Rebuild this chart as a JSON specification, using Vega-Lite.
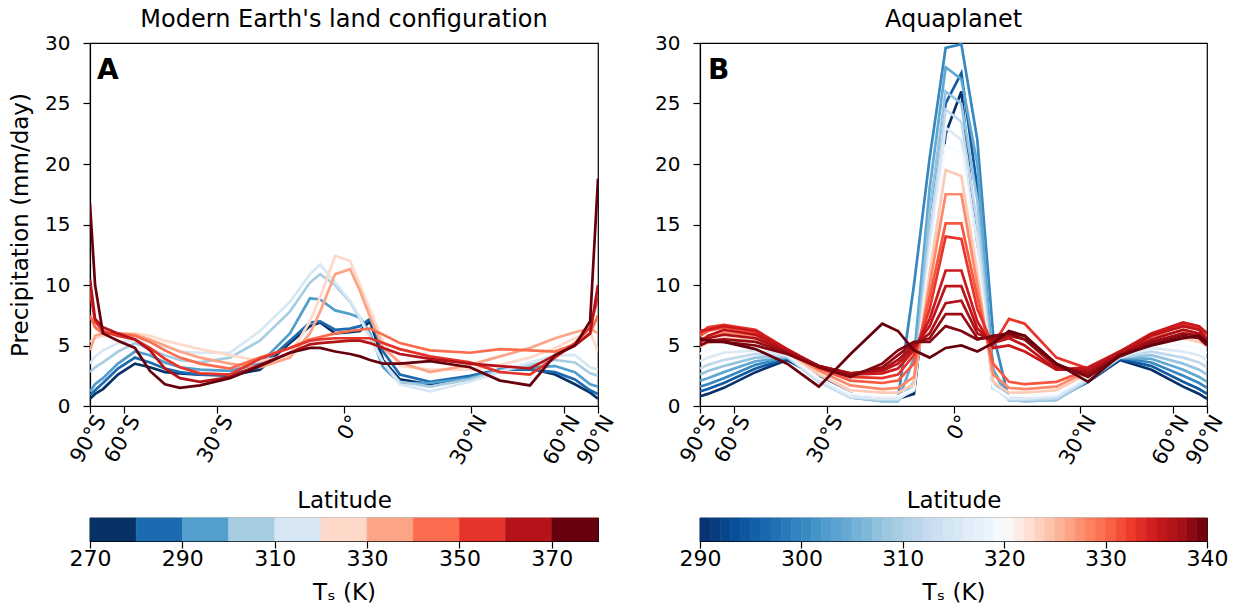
{
  "$schema": "https://vega.github.io/schema/vega-lite/v6.json",
  "padding": {"left": 8, "top": 7, "right": 5, "bottom": 5},
  "config": {
    "font": "DejaVu Sans",
    "view": {"stroke": "black", "strokeWidth": 1.2},
    "axis": {
      "grid": false,
      "domainColor": "black",
      "domainWidth": 1.2,
      "tickColor": "black",
      "tickWidth": 1.2,
      "tickSize": 7,
      "labelColor": "black",
      "labelFontSize": 20,
      "titleColor": "black",
      "titleFontSize": 23,
      "titleFontWeight": "normal"
    },
    "title": {"fontSize": 24, "fontWeight": "normal", "offset": 1, "color": "black"}
  },
  "datasets": {
    "landA": [
      {"T":275,"mu":-1,"P":0.6},{"T":275,"mu":-0.98,"P":1.0},{"T":275,"mu":-0.949,"P":1.4},{"T":275,"mu":-0.89,"P":2.6},{"T":275,"mu":-0.823,"P":3.5},{"T":275,"mu":-0.764,"P":3.2},{"T":275,"mu":-0.705,"P":2.8},{"T":275,"mu":-0.646,"P":2.7},{"T":275,"mu":-0.567,"P":2.6},{"T":275,"mu":-0.449,"P":2.5},{"T":275,"mu":-0.331,"P":3.0},{"T":275,"mu":-0.213,"P":5.2},{"T":275,"mu":-0.134,"P":6.6},{"T":275,"mu":-0.094,"P":6.9},{"T":275,"mu":-0.035,"P":6.0},{"T":275,"mu":0.024,"P":6.1},{"T":275,"mu":0.063,"P":6.2},{"T":275,"mu":0.102,"P":7.0},{"T":275,"mu":0.154,"P":3.8},{"T":275,"mu":0.22,"P":2.2},{"T":275,"mu":0.339,"P":1.8},{"T":275,"mu":0.496,"P":2.4},{"T":275,"mu":0.614,"P":3.0},{"T":275,"mu":0.732,"P":3.1},{"T":275,"mu":0.831,"P":2.6},{"T":275,"mu":0.909,"P":1.8},{"T":275,"mu":0.969,"P":1.1},{"T":275,"mu":1,"P":0.6},
      {"T":285,"mu":-1,"P":0.9},{"T":285,"mu":-0.98,"P":1.3},{"T":285,"mu":-0.949,"P":1.9},{"T":285,"mu":-0.89,"P":3.1},{"T":285,"mu":-0.823,"P":4.0},{"T":285,"mu":-0.764,"P":3.6},{"T":285,"mu":-0.705,"P":3.1},{"T":285,"mu":-0.646,"P":2.8},{"T":285,"mu":-0.567,"P":2.6},{"T":285,"mu":-0.449,"P":2.6},{"T":285,"mu":-0.331,"P":3.2},{"T":285,"mu":-0.213,"P":5.4},{"T":285,"mu":-0.134,"P":6.9},{"T":285,"mu":-0.094,"P":7.0},{"T":285,"mu":-0.035,"P":6.3},{"T":285,"mu":0.024,"P":6.4},{"T":285,"mu":0.063,"P":6.6},{"T":285,"mu":0.102,"P":7.2},{"T":285,"mu":0.154,"P":4.5},{"T":285,"mu":0.22,"P":2.6},{"T":285,"mu":0.339,"P":2.0},{"T":285,"mu":0.496,"P":2.5},{"T":285,"mu":0.614,"P":3.0},{"T":285,"mu":0.732,"P":3.0},{"T":285,"mu":0.831,"P":2.8},{"T":285,"mu":0.909,"P":2.2},{"T":285,"mu":0.969,"P":1.3},{"T":285,"mu":1,"P":1.0},
      {"T":295,"mu":-1,"P":1.2},{"T":295,"mu":-0.98,"P":1.8},{"T":295,"mu":-0.949,"P":2.3},{"T":295,"mu":-0.89,"P":3.5},{"T":295,"mu":-0.823,"P":4.5},{"T":295,"mu":-0.764,"P":4.2},{"T":295,"mu":-0.705,"P":3.6},{"T":295,"mu":-0.646,"P":3.2},{"T":295,"mu":-0.567,"P":3.0},{"T":295,"mu":-0.449,"P":2.9},{"T":295,"mu":-0.331,"P":3.5},{"T":295,"mu":-0.213,"P":6.0},{"T":295,"mu":-0.134,"P":8.9},{"T":295,"mu":-0.094,"P":8.8},{"T":295,"mu":-0.035,"P":7.9},{"T":295,"mu":0.024,"P":7.6},{"T":295,"mu":0.063,"P":7.3},{"T":295,"mu":0.102,"P":6.0},{"T":295,"mu":0.154,"P":3.2},{"T":295,"mu":0.22,"P":1.9},{"T":295,"mu":0.339,"P":1.9},{"T":295,"mu":0.496,"P":2.3},{"T":295,"mu":0.614,"P":3.0},{"T":295,"mu":0.732,"P":3.2},{"T":295,"mu":0.831,"P":3.3},{"T":295,"mu":0.909,"P":2.8},{"T":295,"mu":0.969,"P":1.8},{"T":295,"mu":1,"P":1.6},
      {"T":305,"mu":-1,"P":2.8},{"T":305,"mu":-0.98,"P":3.2},{"T":305,"mu":-0.949,"P":3.6},{"T":305,"mu":-0.89,"P":4.5},{"T":305,"mu":-0.823,"P":5.2},{"T":305,"mu":-0.764,"P":4.7},{"T":305,"mu":-0.705,"P":4.2},{"T":305,"mu":-0.646,"P":3.8},{"T":305,"mu":-0.567,"P":3.6},{"T":305,"mu":-0.449,"P":4.0},{"T":305,"mu":-0.331,"P":5.4},{"T":305,"mu":-0.213,"P":7.8},{"T":305,"mu":-0.134,"P":10.2},{"T":305,"mu":-0.094,"P":10.9},{"T":305,"mu":-0.035,"P":10.0},{"T":305,"mu":0.024,"P":8.6},{"T":305,"mu":0.063,"P":7.2},{"T":305,"mu":0.102,"P":5.8},{"T":305,"mu":0.154,"P":3.6},{"T":305,"mu":0.22,"P":2.0},{"T":305,"mu":0.339,"P":1.6},{"T":305,"mu":0.496,"P":2.2},{"T":305,"mu":0.614,"P":2.9},{"T":305,"mu":0.732,"P":3.4},{"T":305,"mu":0.831,"P":3.8},{"T":305,"mu":0.909,"P":3.6},{"T":305,"mu":0.969,"P":2.7},{"T":305,"mu":1,"P":2.5},
      {"T":315,"mu":-1,"P":3.5},{"T":315,"mu":-0.98,"P":4.1},{"T":315,"mu":-0.949,"P":4.6},{"T":315,"mu":-0.89,"P":5.2},{"T":315,"mu":-0.823,"P":5.5},{"T":315,"mu":-0.764,"P":5.3},{"T":315,"mu":-0.705,"P":4.9},{"T":315,"mu":-0.646,"P":4.5},{"T":315,"mu":-0.567,"P":4.4},{"T":315,"mu":-0.449,"P":4.4},{"T":315,"mu":-0.331,"P":6.2},{"T":315,"mu":-0.213,"P":8.6},{"T":315,"mu":-0.134,"P":10.9},{"T":315,"mu":-0.094,"P":11.7},{"T":315,"mu":-0.035,"P":10.2},{"T":315,"mu":0.024,"P":8.7},{"T":315,"mu":0.063,"P":7.3},{"T":315,"mu":0.102,"P":5.6},{"T":315,"mu":0.154,"P":3.6},{"T":315,"mu":0.22,"P":1.8},{"T":315,"mu":0.339,"P":1.2},{"T":315,"mu":0.496,"P":2.0},{"T":315,"mu":0.614,"P":2.8},{"T":315,"mu":0.732,"P":3.6},{"T":315,"mu":0.831,"P":4.2},{"T":315,"mu":0.909,"P":4.2},{"T":315,"mu":0.969,"P":3.2},{"T":315,"mu":1,"P":3.0},
      {"T":325,"mu":-1,"P":5.3},{"T":325,"mu":-0.98,"P":5.6},{"T":325,"mu":-0.949,"P":5.8},{"T":325,"mu":-0.89,"P":6.0},{"T":325,"mu":-0.823,"P":6.0},{"T":325,"mu":-0.764,"P":5.8},{"T":325,"mu":-0.705,"P":5.4},{"T":325,"mu":-0.646,"P":5.1},{"T":325,"mu":-0.567,"P":4.7},{"T":325,"mu":-0.449,"P":4.2},{"T":325,"mu":-0.331,"P":3.7},{"T":325,"mu":-0.213,"P":4.2},{"T":325,"mu":-0.134,"P":7.0},{"T":325,"mu":-0.094,"P":9.0},{"T":325,"mu":-0.035,"P":12.4},{"T":325,"mu":0.024,"P":12.0},{"T":325,"mu":0.063,"P":10.0},{"T":325,"mu":0.102,"P":8.0},{"T":325,"mu":0.154,"P":5.3},{"T":325,"mu":0.22,"P":3.3},{"T":325,"mu":0.339,"P":3.0},{"T":325,"mu":0.496,"P":3.0},{"T":325,"mu":0.614,"P":3.4},{"T":325,"mu":0.732,"P":4.0},{"T":325,"mu":0.831,"P":4.8},{"T":325,"mu":0.909,"P":5.6},{"T":325,"mu":0.969,"P":6.1},{"T":325,"mu":1,"P":4.5},
      {"T":335,"mu":-1,"P":4.6},{"T":335,"mu":-0.98,"P":5.8},{"T":335,"mu":-0.949,"P":6.0},{"T":335,"mu":-0.89,"P":6.0},{"T":335,"mu":-0.823,"P":5.9},{"T":335,"mu":-0.764,"P":5.5},{"T":335,"mu":-0.705,"P":5.0},{"T":335,"mu":-0.646,"P":4.5},{"T":335,"mu":-0.567,"P":4.0},{"T":335,"mu":-0.449,"P":3.5},{"T":335,"mu":-0.331,"P":3.2},{"T":335,"mu":-0.213,"P":4.0},{"T":335,"mu":-0.134,"P":6.0},{"T":335,"mu":-0.094,"P":7.8},{"T":335,"mu":-0.035,"P":10.9},{"T":335,"mu":0.024,"P":11.3},{"T":335,"mu":0.063,"P":9.5},{"T":335,"mu":0.102,"P":7.4},{"T":335,"mu":0.154,"P":4.8},{"T":335,"mu":0.22,"P":3.6},{"T":335,"mu":0.339,"P":2.8},{"T":335,"mu":0.496,"P":3.4},{"T":335,"mu":0.614,"P":4.1},{"T":335,"mu":0.732,"P":4.8},{"T":335,"mu":0.831,"P":5.6},{"T":335,"mu":0.909,"P":6.1},{"T":335,"mu":0.969,"P":6.4},{"T":335,"mu":1,"P":6.0},
      {"T":345,"mu":-1,"P":7.5},{"T":345,"mu":-0.98,"P":6.5},{"T":345,"mu":-0.949,"P":6.0},{"T":345,"mu":-0.89,"P":6.0},{"T":345,"mu":-0.823,"P":5.8},{"T":345,"mu":-0.764,"P":5.3},{"T":345,"mu":-0.705,"P":4.6},{"T":345,"mu":-0.646,"P":4.0},{"T":345,"mu":-0.567,"P":3.5},{"T":345,"mu":-0.449,"P":3.1},{"T":345,"mu":-0.331,"P":4.0},{"T":345,"mu":-0.213,"P":4.8},{"T":345,"mu":-0.134,"P":5.5},{"T":345,"mu":-0.094,"P":5.7},{"T":345,"mu":-0.035,"P":6.0},{"T":345,"mu":0.024,"P":6.2},{"T":345,"mu":0.063,"P":6.3},{"T":345,"mu":0.102,"P":6.4},{"T":345,"mu":0.154,"P":5.9},{"T":345,"mu":0.22,"P":5.2},{"T":345,"mu":0.339,"P":4.6},{"T":345,"mu":0.496,"P":4.4},{"T":345,"mu":0.614,"P":4.7},{"T":345,"mu":0.732,"P":4.6},{"T":345,"mu":0.831,"P":4.5},{"T":345,"mu":0.909,"P":5.1},{"T":345,"mu":0.969,"P":6.0},{"T":345,"mu":1,"P":7.5},
      {"T":355,"mu":-1,"P":9.5},{"T":355,"mu":-0.98,"P":7.0},{"T":355,"mu":-0.949,"P":6.2},{"T":355,"mu":-0.89,"P":5.8},{"T":355,"mu":-0.823,"P":5.5},{"T":355,"mu":-0.764,"P":4.8},{"T":355,"mu":-0.705,"P":3.9},{"T":355,"mu":-0.646,"P":3.2},{"T":355,"mu":-0.567,"P":2.7},{"T":355,"mu":-0.449,"P":2.6},{"T":355,"mu":-0.331,"P":3.9},{"T":355,"mu":-0.213,"P":4.8},{"T":355,"mu":-0.134,"P":5.4},{"T":355,"mu":-0.094,"P":5.5},{"T":355,"mu":-0.035,"P":5.6},{"T":355,"mu":0.024,"P":5.6},{"T":355,"mu":0.063,"P":5.6},{"T":355,"mu":0.102,"P":5.6},{"T":355,"mu":0.154,"P":5.2},{"T":355,"mu":0.22,"P":4.7},{"T":355,"mu":0.339,"P":4.1},{"T":355,"mu":0.496,"P":3.6},{"T":355,"mu":0.614,"P":2.8},{"T":355,"mu":0.732,"P":2.6},{"T":355,"mu":0.831,"P":4.0},{"T":355,"mu":0.909,"P":5.2},{"T":355,"mu":0.969,"P":6.5},{"T":355,"mu":1,"P":9.0},
      {"T":365,"mu":-1,"P":10.5},{"T":365,"mu":-0.98,"P":7.2},{"T":365,"mu":-0.949,"P":6.5},{"T":365,"mu":-0.89,"P":6.0},{"T":365,"mu":-0.823,"P":5.5},{"T":365,"mu":-0.764,"P":4.6},{"T":365,"mu":-0.705,"P":3.1},{"T":365,"mu":-0.646,"P":2.3},{"T":365,"mu":-0.567,"P":2.0},{"T":365,"mu":-0.449,"P":2.4},{"T":365,"mu":-0.331,"P":3.4},{"T":365,"mu":-0.213,"P":4.4},{"T":365,"mu":-0.134,"P":5.1},{"T":365,"mu":-0.094,"P":5.2},{"T":365,"mu":-0.035,"P":5.3},{"T":365,"mu":0.024,"P":5.4},{"T":365,"mu":0.063,"P":5.4},{"T":365,"mu":0.102,"P":5.2},{"T":365,"mu":0.154,"P":4.8},{"T":365,"mu":0.22,"P":4.3},{"T":365,"mu":0.339,"P":3.9},{"T":365,"mu":0.496,"P":3.5},{"T":365,"mu":0.614,"P":3.3},{"T":365,"mu":0.732,"P":3.1},{"T":365,"mu":0.831,"P":4.2},{"T":365,"mu":0.909,"P":5.0},{"T":365,"mu":0.969,"P":6.0},{"T":365,"mu":1,"P":10.0},
      {"T":375,"mu":-1,"P":16.7},{"T":375,"mu":-0.98,"P":10.0},{"T":375,"mu":-0.949,"P":6.0},{"T":375,"mu":-0.89,"P":5.4},{"T":375,"mu":-0.823,"P":4.8},{"T":375,"mu":-0.764,"P":2.9},{"T":375,"mu":-0.705,"P":1.8},{"T":375,"mu":-0.646,"P":1.5},{"T":375,"mu":-0.567,"P":1.7},{"T":375,"mu":-0.449,"P":2.3},{"T":375,"mu":-0.331,"P":3.3},{"T":375,"mu":-0.213,"P":4.4},{"T":375,"mu":-0.134,"P":4.8},{"T":375,"mu":-0.094,"P":4.8},{"T":375,"mu":-0.035,"P":4.5},{"T":375,"mu":0.024,"P":4.3},{"T":375,"mu":0.063,"P":4.1},{"T":375,"mu":0.102,"P":3.8},{"T":375,"mu":0.154,"P":3.5},{"T":375,"mu":0.22,"P":3.5},{"T":375,"mu":0.339,"P":3.7},{"T":375,"mu":0.496,"P":3.2},{"T":375,"mu":0.614,"P":2.1},{"T":375,"mu":0.732,"P":1.7},{"T":375,"mu":0.831,"P":4.2},{"T":375,"mu":0.909,"P":5.0},{"T":375,"mu":0.969,"P":7.0},{"T":375,"mu":1,"P":18.8}
    ],
    "aquaB": [
      {"T":290,"mu":-1,"P":0.8},{"T":290,"mu":-0.969,"P":1.0},{"T":290,"mu":-0.906,"P":1.5},{"T":290,"mu":-0.781,"P":2.8},{"T":290,"mu":-0.656,"P":3.8},{"T":290,"mu":-0.531,"P":2.4},{"T":290,"mu":-0.406,"P":1.0},{"T":290,"mu":-0.281,"P":0.6},{"T":290,"mu":-0.219,"P":0.6},{"T":290,"mu":-0.156,"P":1.0},{"T":290,"mu":-0.094,"P":12.0},{"T":290,"mu":-0.031,"P":22.5},{"T":290,"mu":0.031,"P":26.0},{"T":290,"mu":0.094,"P":13.0},{"T":290,"mu":0.156,"P":1.5},{"T":290,"mu":0.219,"P":0.8},{"T":290,"mu":0.281,"P":0.6},{"T":290,"mu":0.406,"P":0.7},{"T":290,"mu":0.531,"P":2.0},{"T":290,"mu":0.656,"P":3.8},{"T":290,"mu":0.781,"P":3.0},{"T":290,"mu":0.906,"P":1.6},{"T":290,"mu":0.969,"P":1.0},{"T":290,"mu":1,"P":0.6},
      {"T":295,"mu":-1,"P":1.2},{"T":295,"mu":-0.969,"P":1.4},{"T":295,"mu":-0.906,"P":1.9},{"T":295,"mu":-0.781,"P":3.1},{"T":295,"mu":-0.656,"P":3.9},{"T":295,"mu":-0.531,"P":2.3},{"T":295,"mu":-0.406,"P":0.9},{"T":295,"mu":-0.281,"P":0.5},{"T":295,"mu":-0.219,"P":0.5},{"T":295,"mu":-0.156,"P":1.5},{"T":295,"mu":-0.094,"P":16.0},{"T":295,"mu":-0.031,"P":25.0},{"T":295,"mu":0.031,"P":27.5},{"T":295,"mu":0.094,"P":18.0},{"T":295,"mu":0.156,"P":3.0},{"T":295,"mu":0.219,"P":0.7},{"T":295,"mu":0.281,"P":0.5},{"T":295,"mu":0.406,"P":0.6},{"T":295,"mu":0.531,"P":2.0},{"T":295,"mu":0.656,"P":3.9},{"T":295,"mu":0.781,"P":3.3},{"T":295,"mu":0.906,"P":2.0},{"T":295,"mu":0.969,"P":1.4},{"T":295,"mu":1,"P":1.0},
      {"T":300,"mu":-1,"P":1.6},{"T":300,"mu":-0.969,"P":1.8},{"T":300,"mu":-0.906,"P":2.3},{"T":300,"mu":-0.781,"P":3.4},{"T":300,"mu":-0.656,"P":4.0},{"T":300,"mu":-0.531,"P":2.2},{"T":300,"mu":-0.406,"P":0.8},{"T":300,"mu":-0.281,"P":0.5},{"T":300,"mu":-0.219,"P":0.6},{"T":300,"mu":-0.156,"P":10.0},{"T":300,"mu":-0.094,"P":20.5},{"T":300,"mu":-0.031,"P":29.6},{"T":300,"mu":0.031,"P":29.9},{"T":300,"mu":0.094,"P":22.0},{"T":300,"mu":0.156,"P":6.0},{"T":300,"mu":0.219,"P":0.5},{"T":300,"mu":0.281,"P":0.5},{"T":300,"mu":0.406,"P":0.6},{"T":300,"mu":0.531,"P":2.1},{"T":300,"mu":0.656,"P":4.0},{"T":300,"mu":0.781,"P":3.6},{"T":300,"mu":0.906,"P":2.5},{"T":300,"mu":0.969,"P":1.9},{"T":300,"mu":1,"P":1.5},
      {"T":304,"mu":-1,"P":2.1},{"T":304,"mu":-0.969,"P":2.3},{"T":304,"mu":-0.906,"P":2.8},{"T":304,"mu":-0.781,"P":3.7},{"T":304,"mu":-0.656,"P":4.0},{"T":304,"mu":-0.531,"P":2.1},{"T":304,"mu":-0.406,"P":0.7},{"T":304,"mu":-0.281,"P":0.4},{"T":304,"mu":-0.219,"P":0.4},{"T":304,"mu":-0.156,"P":4.0},{"T":304,"mu":-0.094,"P":18.0},{"T":304,"mu":-0.031,"P":28.0},{"T":304,"mu":0.031,"P":27.0},{"T":304,"mu":0.094,"P":20.0},{"T":304,"mu":0.156,"P":3.0},{"T":304,"mu":0.219,"P":0.5},{"T":304,"mu":0.281,"P":0.4},{"T":304,"mu":0.406,"P":0.5},{"T":304,"mu":0.531,"P":2.1},{"T":304,"mu":0.656,"P":4.0},{"T":304,"mu":0.781,"P":3.9},{"T":304,"mu":0.906,"P":3.0},{"T":304,"mu":0.969,"P":2.4},{"T":304,"mu":1,"P":2.0},
      {"T":308,"mu":-1,"P":2.6},{"T":308,"mu":-0.969,"P":2.9},{"T":308,"mu":-0.906,"P":3.3},{"T":308,"mu":-0.781,"P":4.0},{"T":308,"mu":-0.656,"P":4.1},{"T":308,"mu":-0.531,"P":2.0},{"T":308,"mu":-0.406,"P":0.7},{"T":308,"mu":-0.281,"P":0.4},{"T":308,"mu":-0.219,"P":0.4},{"T":308,"mu":-0.156,"P":2.0},{"T":308,"mu":-0.094,"P":16.0},{"T":308,"mu":-0.031,"P":26.0},{"T":308,"mu":0.031,"P":25.0},{"T":308,"mu":0.094,"P":17.0},{"T":308,"mu":0.156,"P":2.0},{"T":308,"mu":0.219,"P":0.5},{"T":308,"mu":0.281,"P":0.4},{"T":308,"mu":0.406,"P":0.5},{"T":308,"mu":0.531,"P":2.1},{"T":308,"mu":0.656,"P":4.0},{"T":308,"mu":0.781,"P":4.2},{"T":308,"mu":0.906,"P":3.5},{"T":308,"mu":0.969,"P":3.0},{"T":308,"mu":1,"P":2.6},
      {"T":312,"mu":-1,"P":3.1},{"T":312,"mu":-0.969,"P":3.4},{"T":312,"mu":-0.906,"P":3.8},{"T":312,"mu":-0.781,"P":4.3},{"T":312,"mu":-0.656,"P":4.1},{"T":312,"mu":-0.531,"P":2.0},{"T":312,"mu":-0.406,"P":0.7},{"T":312,"mu":-0.281,"P":0.5},{"T":312,"mu":-0.219,"P":0.5},{"T":312,"mu":-0.156,"P":1.5},{"T":312,"mu":-0.094,"P":14.0},{"T":312,"mu":-0.031,"P":24.5},{"T":312,"mu":0.031,"P":23.5},{"T":312,"mu":0.094,"P":15.0},{"T":312,"mu":0.156,"P":1.6},{"T":312,"mu":0.219,"P":0.5},{"T":312,"mu":0.281,"P":0.5},{"T":312,"mu":0.406,"P":0.6},{"T":312,"mu":0.531,"P":2.2},{"T":312,"mu":0.656,"P":4.0},{"T":312,"mu":0.781,"P":4.5},{"T":312,"mu":0.906,"P":4.0},{"T":312,"mu":0.969,"P":3.6},{"T":312,"mu":1,"P":3.2},
      {"T":316,"mu":-1,"P":3.7},{"T":316,"mu":-0.969,"P":4.0},{"T":316,"mu":-0.906,"P":4.4},{"T":316,"mu":-0.781,"P":4.6},{"T":316,"mu":-0.656,"P":4.2},{"T":316,"mu":-0.531,"P":2.1},{"T":316,"mu":-0.406,"P":0.8},{"T":316,"mu":-0.281,"P":0.6},{"T":316,"mu":-0.219,"P":0.6},{"T":316,"mu":-0.156,"P":1.3},{"T":316,"mu":-0.094,"P":13.0},{"T":316,"mu":-0.031,"P":23.0},{"T":316,"mu":0.031,"P":22.0},{"T":316,"mu":0.094,"P":13.5},{"T":316,"mu":0.156,"P":1.5},{"T":316,"mu":0.219,"P":0.6},{"T":316,"mu":0.281,"P":0.6},{"T":316,"mu":0.406,"P":0.8},{"T":316,"mu":0.531,"P":2.3},{"T":316,"mu":0.656,"P":4.1},{"T":316,"mu":0.781,"P":4.8},{"T":316,"mu":0.906,"P":4.5},{"T":316,"mu":0.969,"P":4.2},{"T":316,"mu":1,"P":3.8},
      {"T":320,"mu":-1,"P":4.3},{"T":320,"mu":-0.969,"P":4.6},{"T":320,"mu":-0.906,"P":5.0},{"T":320,"mu":-0.781,"P":5.0},{"T":320,"mu":-0.656,"P":4.3},{"T":320,"mu":-0.531,"P":2.3},{"T":320,"mu":-0.406,"P":1.0},{"T":320,"mu":-0.281,"P":0.8},{"T":320,"mu":-0.219,"P":0.8},{"T":320,"mu":-0.156,"P":1.4},{"T":320,"mu":-0.094,"P":12.0},{"T":320,"mu":-0.031,"P":21.5},{"T":320,"mu":0.031,"P":21.0},{"T":320,"mu":0.094,"P":12.0},{"T":320,"mu":0.156,"P":1.6},{"T":320,"mu":0.219,"P":0.8},{"T":320,"mu":0.281,"P":0.8},{"T":320,"mu":0.406,"P":1.0},{"T":320,"mu":0.531,"P":2.5},{"T":320,"mu":0.656,"P":4.2},{"T":320,"mu":0.781,"P":5.1},{"T":320,"mu":0.906,"P":5.0},{"T":320,"mu":0.969,"P":4.8},{"T":320,"mu":1,"P":4.4},
      {"T":324,"mu":-1,"P":4.9},{"T":324,"mu":-0.969,"P":5.2},{"T":324,"mu":-0.906,"P":5.6},{"T":324,"mu":-0.781,"P":5.4},{"T":324,"mu":-0.656,"P":4.4},{"T":324,"mu":-0.531,"P":2.6},{"T":324,"mu":-0.406,"P":1.3},{"T":324,"mu":-0.281,"P":1.1},{"T":324,"mu":-0.219,"P":1.1},{"T":324,"mu":-0.156,"P":1.8},{"T":324,"mu":-0.094,"P":11.0},{"T":324,"mu":-0.031,"P":19.5},{"T":324,"mu":0.031,"P":19.0},{"T":324,"mu":0.094,"P":11.0},{"T":324,"mu":0.156,"P":2.0},{"T":324,"mu":0.219,"P":1.1},{"T":324,"mu":0.281,"P":1.1},{"T":324,"mu":0.406,"P":1.3},{"T":324,"mu":0.531,"P":2.7},{"T":324,"mu":0.656,"P":4.3},{"T":324,"mu":0.781,"P":5.4},{"T":324,"mu":0.906,"P":5.6},{"T":324,"mu":0.969,"P":5.3},{"T":324,"mu":1,"P":5.0},
      {"T":328,"mu":-1,"P":5.4},{"T":328,"mu":-0.969,"P":5.8},{"T":328,"mu":-0.906,"P":6.1},{"T":328,"mu":-0.781,"P":5.8},{"T":328,"mu":-0.656,"P":4.5},{"T":328,"mu":-0.531,"P":2.9},{"T":328,"mu":-0.406,"P":1.7},{"T":328,"mu":-0.281,"P":1.4},{"T":328,"mu":-0.219,"P":1.5},{"T":328,"mu":-0.156,"P":2.4},{"T":328,"mu":-0.094,"P":10.0},{"T":328,"mu":-0.031,"P":17.5},{"T":328,"mu":0.031,"P":17.5},{"T":328,"mu":0.094,"P":10.0},{"T":328,"mu":0.156,"P":2.6},{"T":328,"mu":0.219,"P":1.5},{"T":328,"mu":0.281,"P":1.4},{"T":328,"mu":0.406,"P":1.6},{"T":328,"mu":0.531,"P":2.9},{"T":328,"mu":0.656,"P":4.4},{"T":328,"mu":0.781,"P":5.7},{"T":328,"mu":0.906,"P":6.2},{"T":328,"mu":0.969,"P":5.9},{"T":328,"mu":1,"P":5.5},
      {"T":331,"mu":-1,"P":5.8},{"T":331,"mu":-0.969,"P":6.2},{"T":331,"mu":-0.906,"P":6.5},{"T":331,"mu":-0.781,"P":6.1},{"T":331,"mu":-0.656,"P":4.6},{"T":331,"mu":-0.531,"P":3.1},{"T":331,"mu":-0.406,"P":2.1},{"T":331,"mu":-0.281,"P":1.9},{"T":331,"mu":-0.219,"P":2.1},{"T":331,"mu":-0.156,"P":3.5},{"T":331,"mu":-0.094,"P":9.0},{"T":331,"mu":-0.031,"P":15.1},{"T":331,"mu":0.031,"P":15.1},{"T":331,"mu":0.094,"P":9.0},{"T":331,"mu":0.156,"P":3.5},{"T":331,"mu":0.219,"P":2.0},{"T":331,"mu":0.281,"P":1.8},{"T":331,"mu":0.406,"P":2.0},{"T":331,"mu":0.531,"P":3.0},{"T":331,"mu":0.656,"P":4.5},{"T":331,"mu":0.781,"P":5.9},{"T":331,"mu":0.906,"P":6.6},{"T":331,"mu":0.969,"P":6.3},{"T":331,"mu":1,"P":5.8},
      {"T":333,"mu":-1,"P":6.0},{"T":333,"mu":-0.969,"P":6.5},{"T":333,"mu":-0.906,"P":6.7},{"T":333,"mu":-0.781,"P":6.3},{"T":333,"mu":-0.656,"P":4.7},{"T":333,"mu":-0.531,"P":3.2},{"T":333,"mu":-0.406,"P":2.4},{"T":333,"mu":-0.281,"P":2.3},{"T":333,"mu":-0.219,"P":2.6},{"T":333,"mu":-0.156,"P":4.2},{"T":333,"mu":-0.094,"P":8.0},{"T":333,"mu":-0.031,"P":14.0},{"T":333,"mu":0.031,"P":13.8},{"T":333,"mu":0.094,"P":8.0},{"T":333,"mu":0.156,"P":5.0},{"T":333,"mu":0.219,"P":7.2},{"T":333,"mu":0.281,"P":6.8},{"T":333,"mu":0.406,"P":4.0},{"T":333,"mu":0.531,"P":3.1},{"T":333,"mu":0.656,"P":4.5},{"T":333,"mu":0.781,"P":6.0},{"T":333,"mu":0.906,"P":6.8},{"T":333,"mu":0.969,"P":6.5},{"T":333,"mu":1,"P":6.0},
      {"T":335,"mu":-1,"P":6.2},{"T":335,"mu":-0.969,"P":6.3},{"T":335,"mu":-0.906,"P":6.6},{"T":335,"mu":-0.781,"P":6.2},{"T":335,"mu":-0.656,"P":4.7},{"T":335,"mu":-0.531,"P":3.3},{"T":335,"mu":-0.406,"P":2.6},{"T":335,"mu":-0.281,"P":2.7},{"T":335,"mu":-0.219,"P":3.1},{"T":335,"mu":-0.156,"P":4.6},{"T":335,"mu":-0.094,"P":7.2},{"T":335,"mu":-0.031,"P":11.2},{"T":335,"mu":0.031,"P":11.2},{"T":335,"mu":0.094,"P":7.0},{"T":335,"mu":0.156,"P":4.8},{"T":335,"mu":0.219,"P":5.0},{"T":335,"mu":0.281,"P":4.5},{"T":335,"mu":0.406,"P":3.0},{"T":335,"mu":0.531,"P":3.2},{"T":335,"mu":0.656,"P":4.5},{"T":335,"mu":0.781,"P":6.0},{"T":335,"mu":0.906,"P":6.9},{"T":335,"mu":0.969,"P":6.6},{"T":335,"mu":1,"P":6.0},
      {"T":336,"mu":-1,"P":5.2},{"T":336,"mu":-0.969,"P":5.8},{"T":336,"mu":-0.906,"P":6.3},{"T":336,"mu":-0.781,"P":5.9},{"T":336,"mu":-0.656,"P":4.6},{"T":336,"mu":-0.531,"P":3.3},{"T":336,"mu":-0.406,"P":2.7},{"T":336,"mu":-0.281,"P":2.9},{"T":336,"mu":-0.219,"P":3.5},{"T":336,"mu":-0.156,"P":4.8},{"T":336,"mu":-0.094,"P":6.6},{"T":336,"mu":-0.031,"P":9.9},{"T":336,"mu":0.031,"P":9.9},{"T":336,"mu":0.094,"P":6.4},{"T":336,"mu":0.156,"P":5.2},{"T":336,"mu":0.219,"P":5.6},{"T":336,"mu":0.281,"P":5.0},{"T":336,"mu":0.406,"P":3.0},{"T":336,"mu":0.531,"P":3.0},{"T":336,"mu":0.656,"P":4.4},{"T":336,"mu":0.781,"P":5.8},{"T":336,"mu":0.906,"P":6.6},{"T":336,"mu":0.969,"P":6.3},{"T":336,"mu":1,"P":5.5},
      {"T":337,"mu":-1,"P":5.5},{"T":337,"mu":-0.969,"P":5.6},{"T":337,"mu":-0.906,"P":5.9},{"T":337,"mu":-0.781,"P":5.6},{"T":337,"mu":-0.656,"P":4.5},{"T":337,"mu":-0.531,"P":3.3},{"T":337,"mu":-0.406,"P":2.7},{"T":337,"mu":-0.281,"P":3.0},{"T":337,"mu":-0.219,"P":3.8},{"T":337,"mu":-0.156,"P":5.0},{"T":337,"mu":-0.094,"P":6.0},{"T":337,"mu":-0.031,"P":8.5},{"T":337,"mu":0.031,"P":8.7},{"T":337,"mu":0.094,"P":6.0},{"T":337,"mu":0.156,"P":5.4},{"T":337,"mu":0.219,"P":5.8},{"T":337,"mu":0.281,"P":5.5},{"T":337,"mu":0.406,"P":3.2},{"T":337,"mu":0.531,"P":2.8},{"T":337,"mu":0.656,"P":4.3},{"T":337,"mu":0.781,"P":5.5},{"T":337,"mu":0.906,"P":6.3},{"T":337,"mu":0.969,"P":6.0},{"T":337,"mu":1,"P":5.4},
      {"T":338,"mu":-1,"P":5.6},{"T":338,"mu":-0.969,"P":5.4},{"T":338,"mu":-0.906,"P":5.5},{"T":338,"mu":-0.781,"P":5.3},{"T":338,"mu":-0.656,"P":4.4},{"T":338,"mu":-0.531,"P":3.3},{"T":338,"mu":-0.406,"P":2.6},{"T":338,"mu":-0.281,"P":3.2},{"T":338,"mu":-0.219,"P":4.2},{"T":338,"mu":-0.156,"P":5.2},{"T":338,"mu":-0.094,"P":5.6},{"T":338,"mu":-0.031,"P":7.6},{"T":338,"mu":0.031,"P":7.6},{"T":338,"mu":0.094,"P":5.6},{"T":338,"mu":0.156,"P":5.6},{"T":338,"mu":0.219,"P":6.0},{"T":338,"mu":0.281,"P":5.8},{"T":338,"mu":0.406,"P":3.4},{"T":338,"mu":0.531,"P":2.6},{"T":338,"mu":0.656,"P":4.2},{"T":338,"mu":0.781,"P":5.3},{"T":338,"mu":0.906,"P":6.0},{"T":338,"mu":0.969,"P":5.8},{"T":338,"mu":1,"P":5.3},
      {"T":339,"mu":-1,"P":5.0},{"T":339,"mu":-0.969,"P":5.3},{"T":339,"mu":-0.906,"P":5.3},{"T":339,"mu":-0.781,"P":5.0},{"T":339,"mu":-0.656,"P":4.3},{"T":339,"mu":-0.531,"P":3.2},{"T":339,"mu":-0.406,"P":2.4},{"T":339,"mu":-0.281,"P":3.5},{"T":339,"mu":-0.219,"P":4.6},{"T":339,"mu":-0.156,"P":5.3},{"T":339,"mu":-0.094,"P":5.3},{"T":339,"mu":-0.031,"P":6.6},{"T":339,"mu":0.031,"P":6.2},{"T":339,"mu":0.094,"P":5.5},{"T":339,"mu":0.156,"P":5.8},{"T":339,"mu":0.219,"P":6.0},{"T":339,"mu":0.281,"P":5.5},{"T":339,"mu":0.406,"P":3.5},{"T":339,"mu":0.531,"P":2.4},{"T":339,"mu":0.656,"P":4.1},{"T":339,"mu":0.781,"P":5.1},{"T":339,"mu":0.906,"P":5.8},{"T":339,"mu":0.969,"P":5.6},{"T":339,"mu":1,"P":5.0},
      {"T":340,"mu":-1,"P":5.5},{"T":340,"mu":-0.969,"P":5.4},{"T":340,"mu":-0.906,"P":5.3},{"T":340,"mu":-0.781,"P":4.7},{"T":340,"mu":-0.656,"P":3.5},{"T":340,"mu":-0.531,"P":1.6},{"T":340,"mu":-0.406,"P":4.3},{"T":340,"mu":-0.281,"P":6.8},{"T":340,"mu":-0.219,"P":6.2},{"T":340,"mu":-0.156,"P":4.6},{"T":340,"mu":-0.094,"P":4.0},{"T":340,"mu":-0.031,"P":4.8},{"T":340,"mu":0.031,"P":5.0},{"T":340,"mu":0.094,"P":4.5},{"T":340,"mu":0.156,"P":5.2},{"T":340,"mu":0.219,"P":6.2},{"T":340,"mu":0.281,"P":5.8},{"T":340,"mu":0.406,"P":3.5},{"T":340,"mu":0.531,"P":2.0},{"T":340,"mu":0.656,"P":4.2},{"T":340,"mu":0.781,"P":5.0},{"T":340,"mu":0.906,"P":5.6},{"T":340,"mu":0.969,"P":5.8},{"T":340,"mu":1,"P":5.2}
    ],
    "barA": [
      {"lo":270,"hi":280,"T":275},{"lo":280,"hi":290,"T":285},{"lo":290,"hi":300,"T":295},{"lo":300,"hi":310,"T":305},{"lo":310,"hi":320,"T":315},{"lo":320,"hi":330,"T":325},{"lo":330,"hi":340,"T":335},{"lo":340,"hi":350,"T":345},{"lo":350,"hi":360,"T":355},{"lo":360,"hi":370,"T":365},{"lo":370,"hi":380,"T":375}
    ],
    "barB": [
      {"lo":290,"hi":291,"T":290.5},{"lo":291,"hi":292,"T":291.5},{"lo":292,"hi":293,"T":292.5},{"lo":293,"hi":294,"T":293.5},{"lo":294,"hi":295,"T":294.5},{"lo":295,"hi":296,"T":295.5},{"lo":296,"hi":297,"T":296.5},{"lo":297,"hi":298,"T":297.5},{"lo":298,"hi":299,"T":298.5},{"lo":299,"hi":300,"T":299.5},
      {"lo":300,"hi":301,"T":300.5},{"lo":301,"hi":302,"T":301.5},{"lo":302,"hi":303,"T":302.5},{"lo":303,"hi":304,"T":303.5},{"lo":304,"hi":305,"T":304.5},{"lo":305,"hi":306,"T":305.5},{"lo":306,"hi":307,"T":306.5},{"lo":307,"hi":308,"T":307.5},{"lo":308,"hi":309,"T":308.5},{"lo":309,"hi":310,"T":309.5},
      {"lo":310,"hi":311,"T":310.5},{"lo":311,"hi":312,"T":311.5},{"lo":312,"hi":313,"T":312.5},{"lo":313,"hi":314,"T":313.5},{"lo":314,"hi":315,"T":314.5},{"lo":315,"hi":316,"T":315.5},{"lo":316,"hi":317,"T":316.5},{"lo":317,"hi":318,"T":317.5},{"lo":318,"hi":319,"T":318.5},{"lo":319,"hi":320,"T":319.5},
      {"lo":320,"hi":321,"T":320.5},{"lo":321,"hi":322,"T":321.5},{"lo":322,"hi":323,"T":322.5},{"lo":323,"hi":324,"T":323.5},{"lo":324,"hi":325,"T":324.5},{"lo":325,"hi":326,"T":325.5},{"lo":326,"hi":327,"T":326.5},{"lo":327,"hi":328,"T":327.5},{"lo":328,"hi":329,"T":328.5},{"lo":329,"hi":330,"T":329.5},
      {"lo":330,"hi":331,"T":330.5},{"lo":331,"hi":332,"T":331.5},{"lo":332,"hi":333,"T":332.5},{"lo":333,"hi":334,"T":333.5},{"lo":334,"hi":335,"T":334.5},{"lo":335,"hi":336,"T":335.5},{"lo":336,"hi":337,"T":336.5},{"lo":337,"hi":338,"T":337.5},{"lo":338,"hi":339,"T":338.5},{"lo":339,"hi":340,"T":339.5}
    ]
  },
  "hconcat": [
    {
      "vconcat": [
        {
          "width": 508,
          "height": 363,
          "title": "Modern Earth's land configuration",
          "layer": [
            {
              "data": {"name": "landA"},
              "mark": {"type": "line", "strokeWidth": 2.7, "clip": true},
              "encoding": {
                "x": {
                  "field": "mu", "type": "quantitative",
                  "scale": {"domain": [-1, 1], "nice": false, "zero": false},
                  "axis": {
                    "values": [-1, -0.866, -0.5, 0, 0.5, 0.866, 1],
                    "labelExpr": "datum.value < -0.9 ? '90°S' : datum.value < -0.7 ? '60°S' : datum.value < -0.3 ? '30°S' : datum.value < 0.3 ? '0°' : datum.value < 0.7 ? '30°N' : datum.value < 0.9 ? '60°N' : '90°N'",
                    "labelAngle": -60, "labelAlign": "right", "labelBaseline": "middle", "labelFontSize": 21,
                    "labelOffset": 11, "labelPadding": 4, "labelFlush": false, "labelOverlap": false,
                    "title": "Latitude", "titlePadding": 22
                  }
                },
                "y": {
                  "field": "P", "type": "quantitative",
                  "scale": {"domain": [0, 30], "nice": false},
                  "axis": {"values": [0, 5, 10, 15, 20, 25, 30], "labelPadding": 13, "title": "Precipitation (mm/day)", "titlePadding": 12}
                },
                "color": {
                  "field": "T", "type": "quantitative",
                  "scale": {"type": "threshold", "domain": [280, 290, 300, 310, 320, 330, 340, 350, 360, 370],
                    "range": ["#083266", "#1c6bb0", "#529fcd", "#a6cde2", "#d7e7f3", "#fed9ca", "#fca486", "#fc6c4e", "#e5342b", "#b41419", "#67000d"]},
                  "legend": null
                },
                "detail": {"field": "T", "type": "nominal"}
              }
            },
            {
              "data": {"values": [{"tag": "A", "mu": -0.972, "P": 27.0}]},
              "mark": {"type": "text", "fontSize": 28, "fontWeight": "bold", "align": "left", "baseline": "alphabetic", "color": "black"},
              "encoding": {
                "x": {"field": "mu", "type": "quantitative"},
                "y": {"field": "P", "type": "quantitative"},
                "text": {"field": "tag"}
              }
            }
          ]
        },
        {
          "width": 508,
          "height": 23,
          "data": {"name": "barA"},
          "mark": {"type": "rect", "strokeWidth": 0.6},
          "encoding": {
            "x": {
              "field": "lo", "type": "quantitative",
              "scale": {"domain": [270, 380], "nice": false, "zero": false},
              "axis": {"values": [270, 290, 310, 330, 350, 370], "labelFlush": false, "labelFontSize": 22, "labelPadding": 0, "title": "Tₛ (K)", "titlePadding": 12}
            },
            "x2": {"field": "hi"},
            "color": {
              "field": "T", "type": "quantitative",
              "scale": {"type": "threshold", "domain": [280, 290, 300, 310, 320, 330, 340, 350, 360, 370],
                "range": ["#083266", "#1c6bb0", "#529fcd", "#a6cde2", "#d7e7f3", "#fed9ca", "#fca486", "#fc6c4e", "#e5342b", "#b41419", "#67000d"]},
              "legend": null
            },
            "stroke": {
              "field": "T", "type": "quantitative",
              "scale": {"type": "threshold", "domain": [280, 290, 300, 310, 320, 330, 340, 350, 360, 370],
                "range": ["#083266", "#1c6bb0", "#529fcd", "#a6cde2", "#d7e7f3", "#fed9ca", "#fca486", "#fc6c4e", "#e5342b", "#b41419", "#67000d"]},
              "legend": null
            }
          }
        }
      ],
      "spacing": 3,
      "resolve": {"scale": {"color": "independent", "stroke": "independent"}}
    },
    {
      "vconcat": [
        {
          "width": 507,
          "height": 363,
          "title": "Aquaplanet",
          "layer": [
            {
              "data": {"name": "aquaB"},
              "mark": {"type": "line", "strokeWidth": 2.7, "clip": true},
              "encoding": {
                "x": {
                  "field": "mu", "type": "quantitative",
                  "scale": {"domain": [-1, 1], "nice": false, "zero": false},
                  "axis": {
                    "values": [-1, -0.866, -0.5, 0, 0.5, 0.866, 1],
                    "labelExpr": "datum.value < -0.9 ? '90°S' : datum.value < -0.7 ? '60°S' : datum.value < -0.3 ? '30°S' : datum.value < 0.3 ? '0°' : datum.value < 0.7 ? '30°N' : datum.value < 0.9 ? '60°N' : '90°N'",
                    "labelAngle": -60, "labelAlign": "right", "labelBaseline": "middle", "labelFontSize": 21,
                    "labelOffset": 11, "labelPadding": 4, "labelFlush": false, "labelOverlap": false,
                    "title": "Latitude", "titlePadding": 22
                  }
                },
                "y": {
                  "field": "P", "type": "quantitative",
                  "scale": {"domain": [0, 30], "nice": false},
                  "axis": {"values": [0, 5, 10, 15, 20, 25, 30], "labelPadding": 13, "title": null}
                },
                "color": {
                  "field": "T", "type": "quantitative",
                  "scale": {"type": "linear", "interpolate": "rgb",
                    "domain": [290, 293.75, 297.5, 301.25, 305, 308.75, 312.5, 316.25, 320, 322.5, 325, 327.5, 330, 332.5, 335, 337.5, 340],
                    "range": ["#08306b", "#08519c", "#2171b5", "#4292c6", "#6baed6", "#9ecae1", "#c6dbef", "#deebf7", "#f7fbff", "#fee0d2", "#fcbba1", "#fc9272", "#fb6a4a", "#ef3b2c", "#cb181d", "#a50f15", "#67000d"]},
                  "legend": null
                },
                "detail": {"field": "T", "type": "nominal"}
              }
            },
            {
              "data": {"values": [{"tag": "B", "mu": -0.968, "P": 27.0}]},
              "mark": {"type": "text", "fontSize": 28, "fontWeight": "bold", "align": "left", "baseline": "alphabetic", "color": "black"},
              "encoding": {
                "x": {"field": "mu", "type": "quantitative"},
                "y": {"field": "P", "type": "quantitative"},
                "text": {"field": "tag"}
              }
            }
          ]
        },
        {
          "width": 507,
          "height": 23,
          "data": {"name": "barB"},
          "mark": {"type": "rect", "strokeWidth": 0.6},
          "encoding": {
            "x": {
              "field": "lo", "type": "quantitative",
              "scale": {"domain": [290, 340], "nice": false, "zero": false},
              "axis": {"values": [290, 300, 310, 320, 330, 340], "labelFlush": false, "labelFontSize": 22, "labelPadding": 0, "title": "Tₛ (K)", "titlePadding": 12}
            },
            "x2": {"field": "hi"},
            "color": {
              "field": "T", "type": "quantitative",
              "scale": {"type": "linear", "interpolate": "rgb",
                "domain": [290, 293.75, 297.5, 301.25, 305, 308.75, 312.5, 316.25, 320, 322.5, 325, 327.5, 330, 332.5, 335, 337.5, 340],
                "range": ["#08306b", "#08519c", "#2171b5", "#4292c6", "#6baed6", "#9ecae1", "#c6dbef", "#deebf7", "#f7fbff", "#fee0d2", "#fcbba1", "#fc9272", "#fb6a4a", "#ef3b2c", "#cb181d", "#a50f15", "#67000d"]},
              "legend": null
            },
            "stroke": {
              "field": "T", "type": "quantitative",
              "scale": {"type": "linear", "interpolate": "rgb",
                "domain": [290, 293.75, 297.5, 301.25, 305, 308.75, 312.5, 316.25, 320, 322.5, 325, 327.5, 330, 332.5, 335, 337.5, 340],
                "range": ["#08306b", "#08519c", "#2171b5", "#4292c6", "#6baed6", "#9ecae1", "#c6dbef", "#deebf7", "#f7fbff", "#fee0d2", "#fcbba1", "#fc9272", "#fb6a4a", "#ef3b2c", "#cb181d", "#a50f15", "#67000d"]},
              "legend": null
            }
          }
        }
      ],
      "spacing": 3,
      "resolve": {"scale": {"color": "independent", "stroke": "independent"}}
    }
  ],
  "spacing": 34,
  "resolve": {"scale": {"color": "independent", "stroke": "independent"}}
}
